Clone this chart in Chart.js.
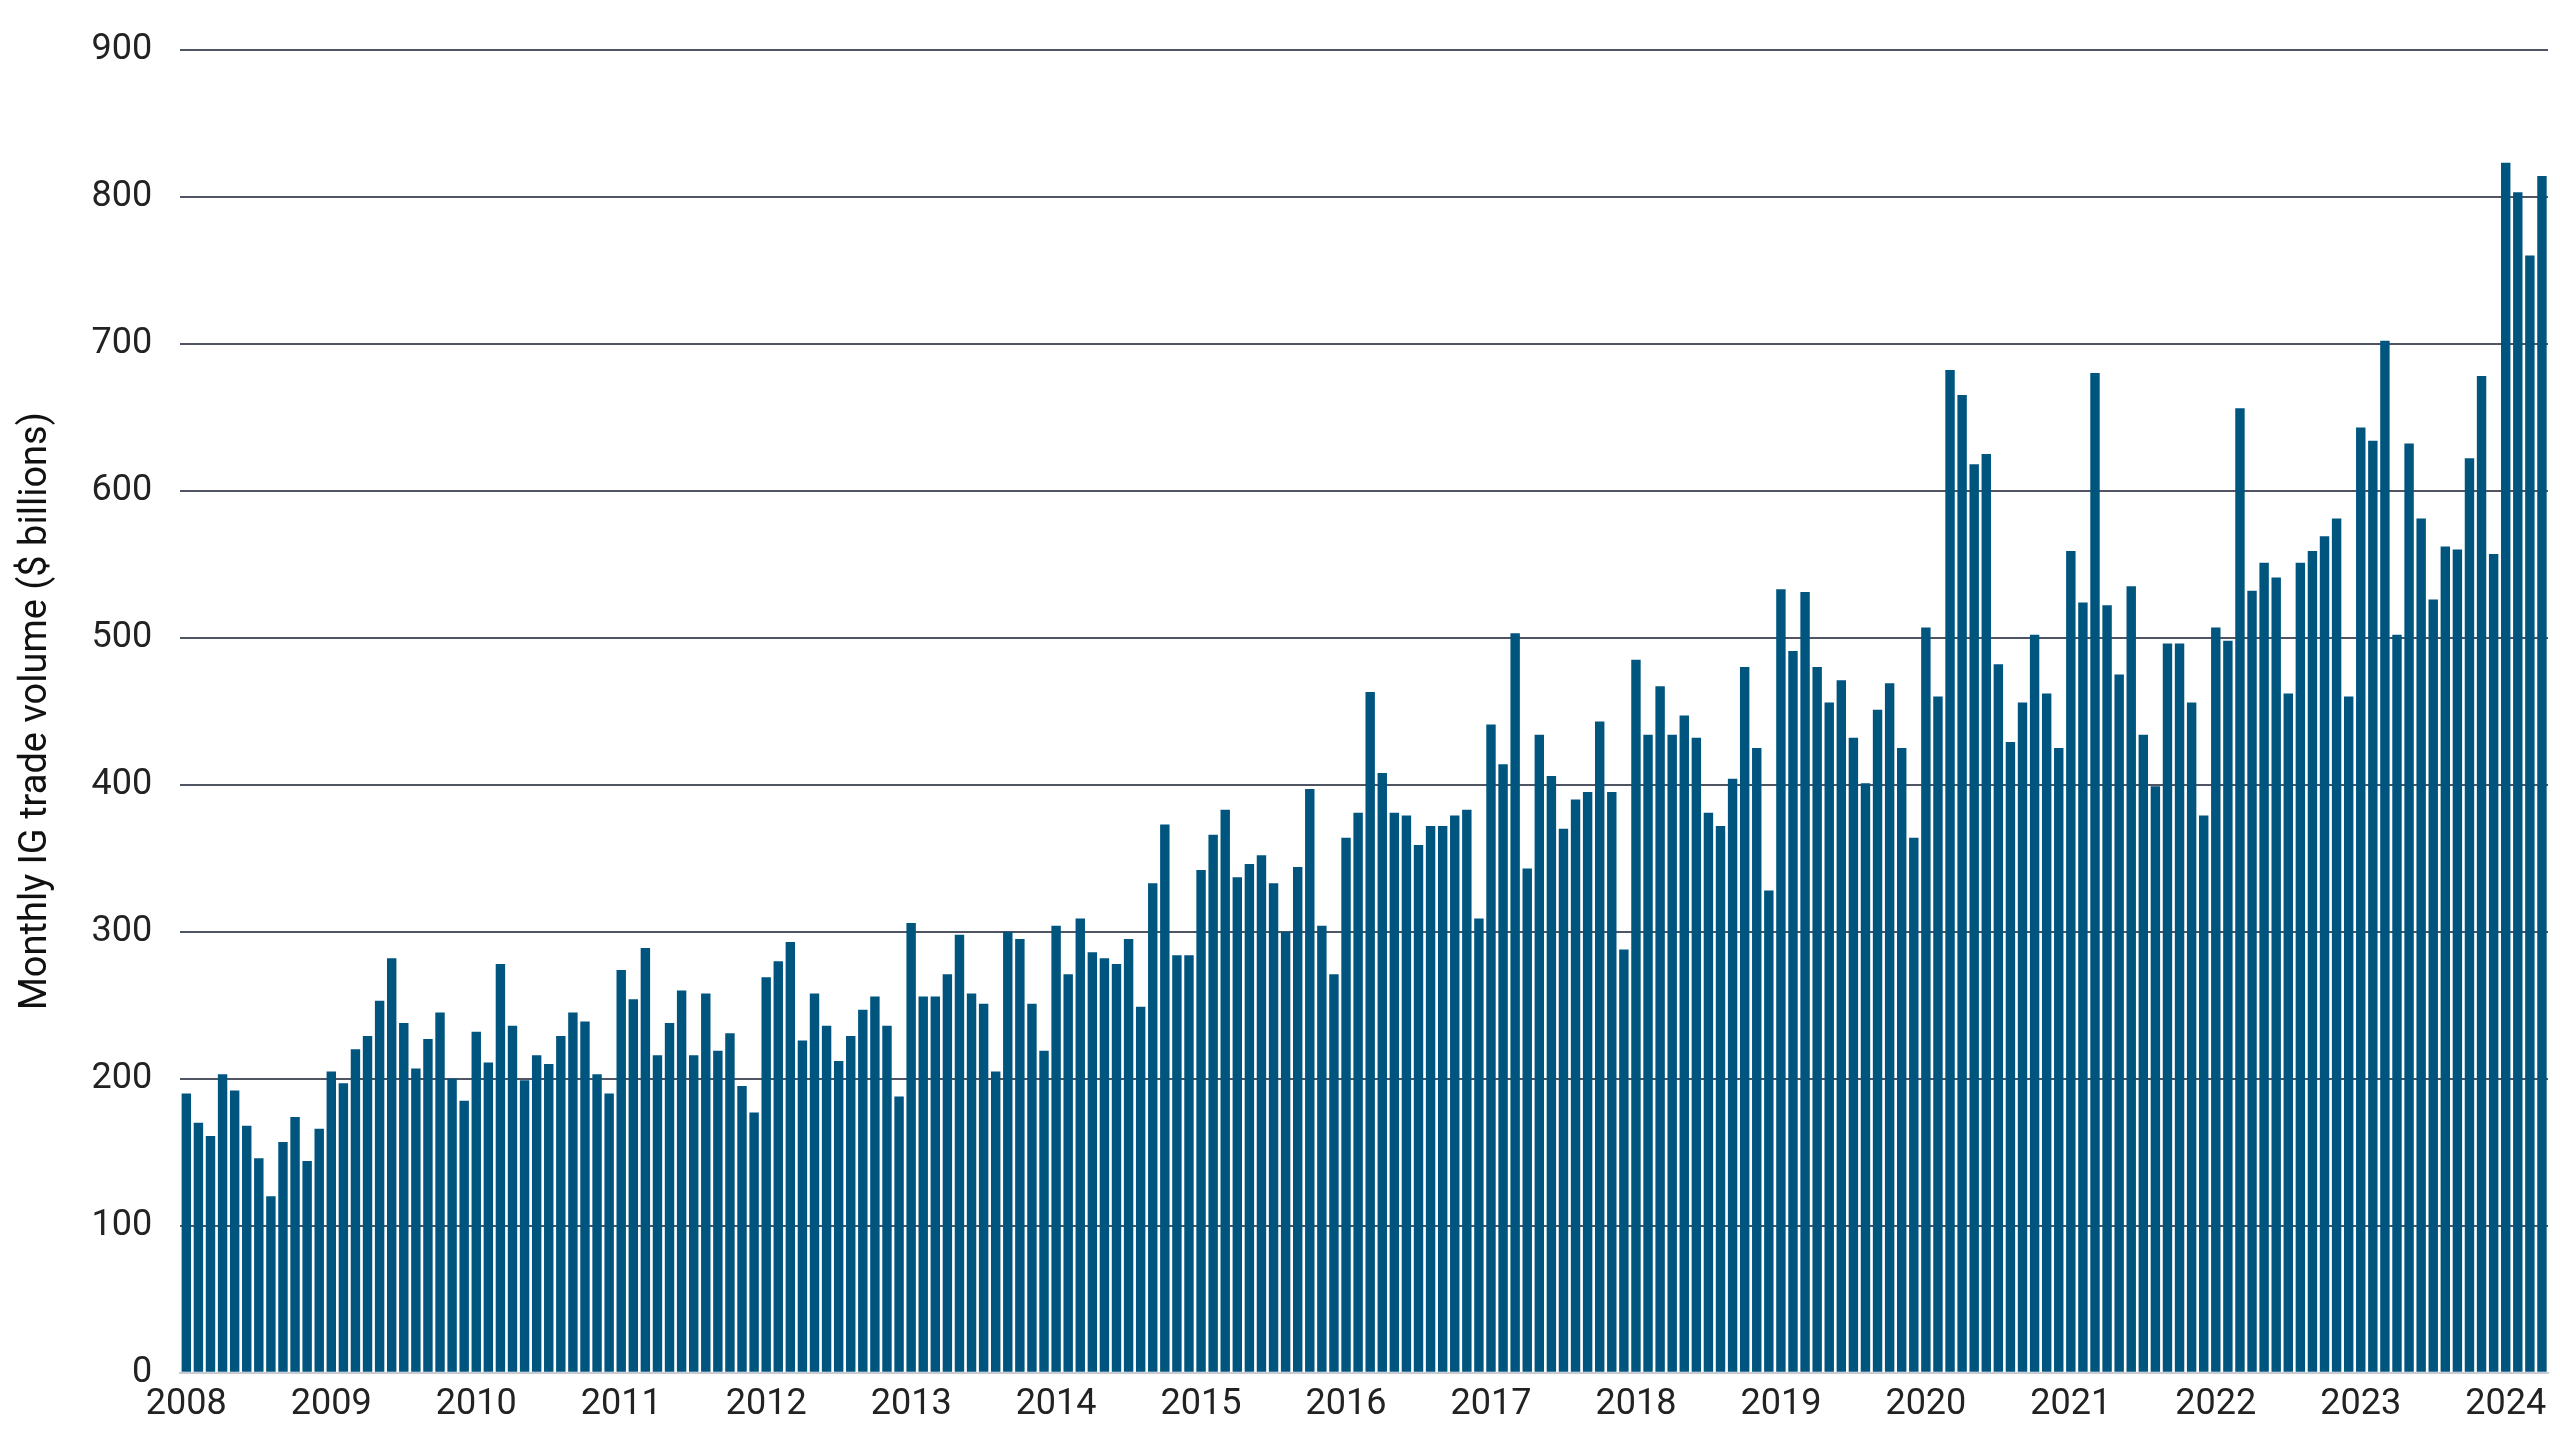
<!DOCTYPE html>
<html>
<head>
<meta charset="utf-8">
<script src="https://cdn.jsdelivr.net/npm/chart.js@4"></script>
<style>
  html, body { margin: 0; padding: 0; background: #fff; }
  #wrap { width: 2560px; height: 1440px; }
</style>
</head>
<body>
<div id="wrap"><canvas id="c"></canvas></div>
<script>
// 月度数据 2008-01 .. 2024-04
const years = ["2008","2009","2010","2011","2012","2013","2014","2015","2016","2017","2018","2019","2020","2021","2022","2023","2024"];
const volume = [
  190,170,161,203,192,168,146,120,157,174,144,166,
  205,197,220,229,253,282,238,207,227,245,200,185,
  232,211,278,236,199,216,210,229,245,239,203,190,
  274,254,289,216,238,260,216,258,219,231,195,177,
  269,280,293,226,258,236,212,229,247,256,236,188,
  306,256,256,271,298,258,251,205,300,295,251,219,
  304,271,309,286,282,278,295,249,333,373,284,284,
  342,366,383,337,346,352,333,300,344,397,304,271,
  364,381,463,408,381,379,359,372,372,379,383,309,
  441,414,503,343,434,406,370,390,395,443,395,288,
  485,434,467,434,447,432,381,372,404,480,425,328,
  533,491,531,480,456,471,432,401,451,469,425,364,
  507,460,682,665,618,625,482,429,456,502,462,425,
  559,524,680,522,475,535,434,399,496,496,456,379,
  507,498,656,532,551,541,462,551,559,569,581,460,
  643,634,702,502,632,581,526,562,560,622,678,557,
  823,803,760,814
];
const yTicks = [0,100,200,300,400,500,600,700,800,900];

const labels = volume.map((v, i) => years[Math.floor(i / 12)] + "-" + (i % 12 + 1));
const font = "'Liberation Sans Narrow', 'Roboto', 'DejaVu Sans Condensed', sans-serif";

new Chart(document.getElementById("c"), {
    type: "bar",
    data: {
        labels: labels,
        datasets: [{
            data: volume,
            backgroundColor: "#00557f",
            categoryPercentage: 1.0,
            barPercentage: 0.78,
        }],
    },
    options: {
        responsive: true,
        maintainAspectRatio: false,
        animation: false,
        layout: { padding: { left: 10, right: 12, top: 30, bottom: 10 } },
        plugins: { legend: { display: false }, tooltip: { enabled: false } },
        scales: {
            x: {
                grid: { display: false },
                border: { color: "#c8ccd2", width: 2 },
                ticks: {
                    autoSkip: false,
                    maxRotation: 0,
                    color: "#222",
                    font: { family: font, size: 36 },
                    callback: function(val, idx) {
                        return idx % 12 === 0 ? years[idx / 12] : "";
                    },
                },
            },
            y: {
                min: 0,
                max: 900,
                afterBuildTicks: (s) => { s.ticks = yTicks.map(v => ({ value: v })); },
                grid: { color: "#4f5563", lineWidth: 2, drawTicks: false },
                border: { display: false },
                ticks: {
                    padding: 28,
                    color: "#222",
                    font: { family: font, size: 36 },
                },
                title: {
                    display: true,
                    text: "Monthly IG trade volume ($ billions)",
                    color: "#111",
                    font: { family: font, size: 38 },
                },
            },
        },
    },
});
</script>
</body>
</html>
